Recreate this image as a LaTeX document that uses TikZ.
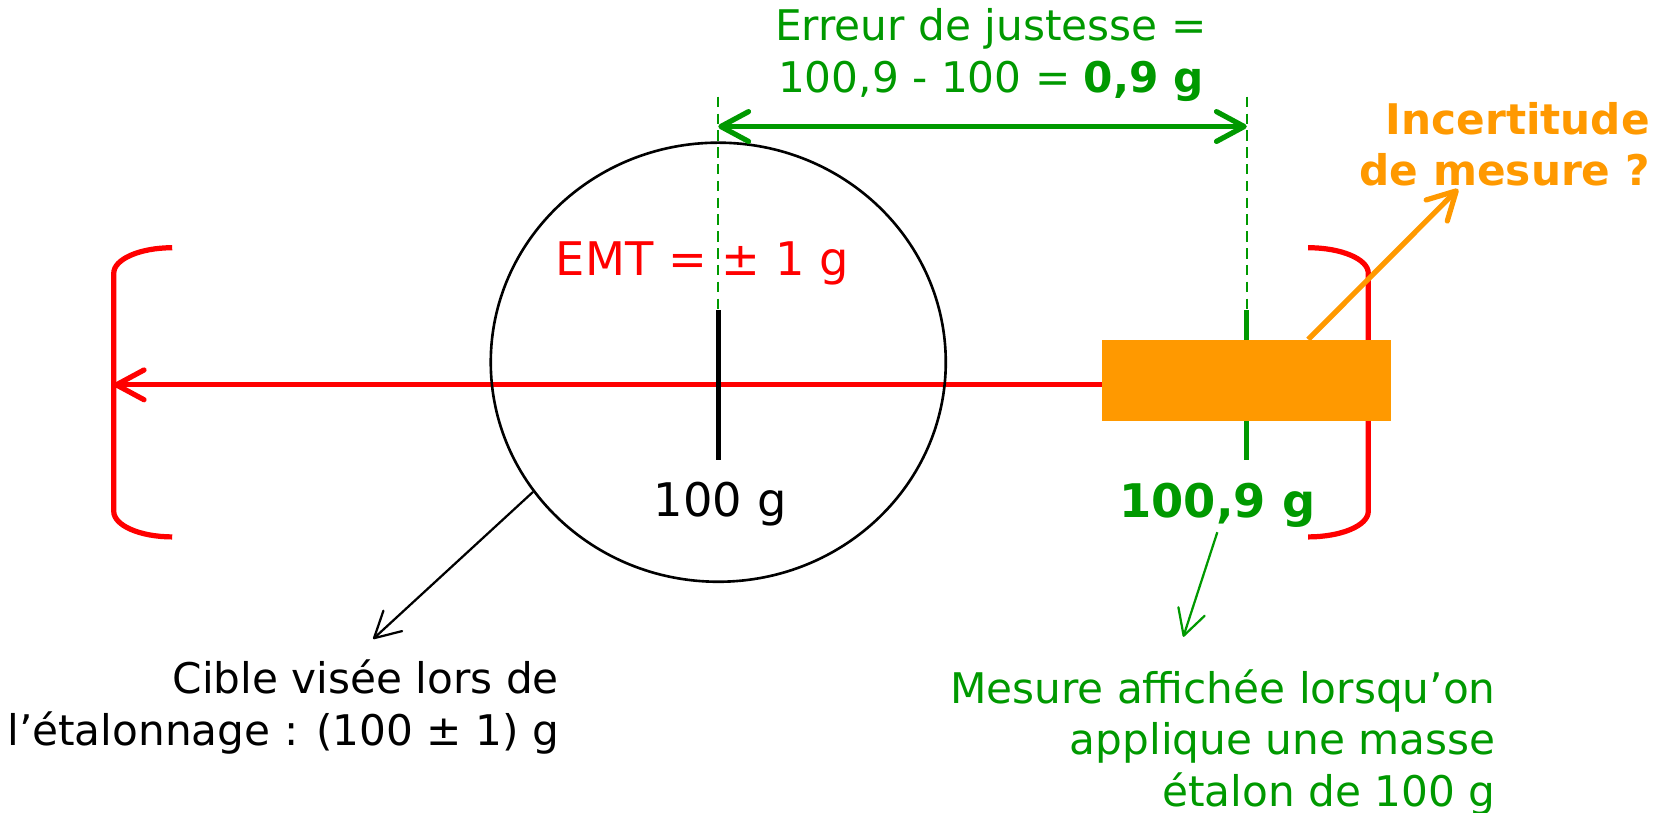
\documentclass[tikz,border=0pt]{standalone}
\usepackage{fontspec}
\setmainfont{DejaVu Sans}
\usetikzlibrary{arrows.meta, shapes.geometric}
\definecolor{LimitRed}{HTML}{FF0000}
\definecolor{ReadGreen}{HTML}{009900}
\definecolor{DoubtOrange}{HTML}{FF9900}
\tikzset{
  txt/.style={inner sep=1pt, font=\fontsize{11.3}{13.8}\selectfont},
  boldtxt/.style={inner sep=1pt, font=\fontsize{11.3}{13.8}\selectfont\bfseries},
  bigtxt/.style={inner sep=1pt, font=\fontsize{12.4}{15}\selectfont},
  bigbold/.style={inner sep=1pt, font=\fontsize{12.4}{15}\selectfont\bfseries},
  target/.style={draw=black, line width=0.7pt, ellipse, minimum width=4.28cm, minimum height=4.13cm, inner sep=0pt},
  doubtbox/.style={fill=DoubtOrange, draw=none, minimum width=2.71cm, minimum height=0.76cm, inner sep=0pt},
  ticker/.style={line width=1.4pt},
  guide/.style={draw=ReadGreen, line width=0.6pt, dash pattern=on 2.8pt off 1.7pt},
  bracket/.style={draw=LimitRed, line width=1.4pt},
  redarrow/.style={-{Straight Barb[length=2.6mm, width=2.8mm, round]}, line width=1.4pt, draw=LimitRed},
  gaparrow/.style={{Straight Barb[length=2.6mm, width=2.8mm, round]}-{Straight Barb[length=2.6mm, width=2.8mm, round]}, line width=1.4pt, draw=ReadGreen},
  greenarrow/.style={-{Straight Barb[length=2.4mm, width=2.6mm, round]}, line width=0.6pt, draw=ReadGreen},
  blackarrow/.style={-{Straight Barb[length=2.4mm, width=2.6mm, round]}, line width=0.6pt, draw=black},
  orangearrow/.style={-{Straight Barb[length=2.6mm, width=2.8mm, round]}, line width=1.4pt, draw=DoubtOrange}
}
\begin{document}
\begin{tikzpicture}
\useasboundingbox (0,0) rectangle (15.68,7.64);
\coordinate (lim) at (1.07,4.02);
\coordinate (ctop) at (6.756,4.724);
\coordinate (cbot) at (6.756,3.313);
\coordinate (mtop) at (11.727,4.724);
\coordinate (mbot) at (11.727,3.313);
\coordinate (cguide) at (6.756,6.73);
\coordinate (mguide) at (11.727,6.73);
\coordinate (gapleft) at (6.756,6.45);
\coordinate (gapright) at (11.727,6.45);
\coordinate (ciblehead) at (3.51,1.63);
\coordinate (valhead) at (11.13,1.65);
\coordinate (doubthead) at (13.715,5.862);
\draw[bracket] (1.62,5.31) arc[start angle=90, end angle=180, x radius=0.55, y radius=0.24]
  -- (1.07,2.83) arc[start angle=180, end angle=270, x radius=0.55, y radius=0.24];
\draw[bracket] (12.305,5.31) arc[start angle=90, end angle=0, x radius=0.565, y radius=0.24]
  -- (12.87,2.83) arc[start angle=0, end angle=-90, x radius=0.565, y radius=0.24];
\draw[guide] (cguide) -- (ctop);
\draw[guide] (mguide) -- (mtop);
\draw[ticker, draw=ReadGreen] (mtop) -- (mbot);
\node[doubtbox] (box) at (11.725,4.06) {};
\draw[redarrow] (box.west |- lim) -- (lim);
\node[target] (cible) at (6.756,4.233) {};
\draw[ticker] (ctop) -- (cbot);
\draw[gaparrow] (gapleft) -- (gapright);
\node[txt, text=ReadGreen, align=center] (erreur) at (9.32,7.125)
  {Erreur de justesse =\\100,9 - 100 = \textbf{0,9 g}};
\node[bigtxt, text=LimitRed, anchor=base] (emt) at (6.607,5.046) {EMT = ± 1 g};
\node[bigtxt, anchor=base] (cval) at (6.775,2.78) {100 g};
\node[bigbold, text=ReadGreen, anchor=base] (val) at (11.45,2.77) {100,9 g};
\node[boldtxt, text=DoubtOrange, align=right, anchor=east] (doubt) at (15.56,6.285)
  {Incertitude\\de mesure ?};
\node[txt, align=right, anchor=east] (ciblelbl) at (5.30,0.99)
  {Cible visée lors de\\l’étalonnage : (100 ± 1) g};
\node[txt, text=ReadGreen, align=right, anchor=east] (vallbl) at (14.11,0.658)
  {Mesure affichée lorsqu’on\\applique une masse\\étalon de 100 g};
\draw[orangearrow] ([xshift=5.8mm]box.north) -- (doubthead);
\draw[blackarrow] (cible.215) -- (ciblehead);
\draw[greenarrow] (val.south) -- (valhead);
\end{tikzpicture}
\end{document}
